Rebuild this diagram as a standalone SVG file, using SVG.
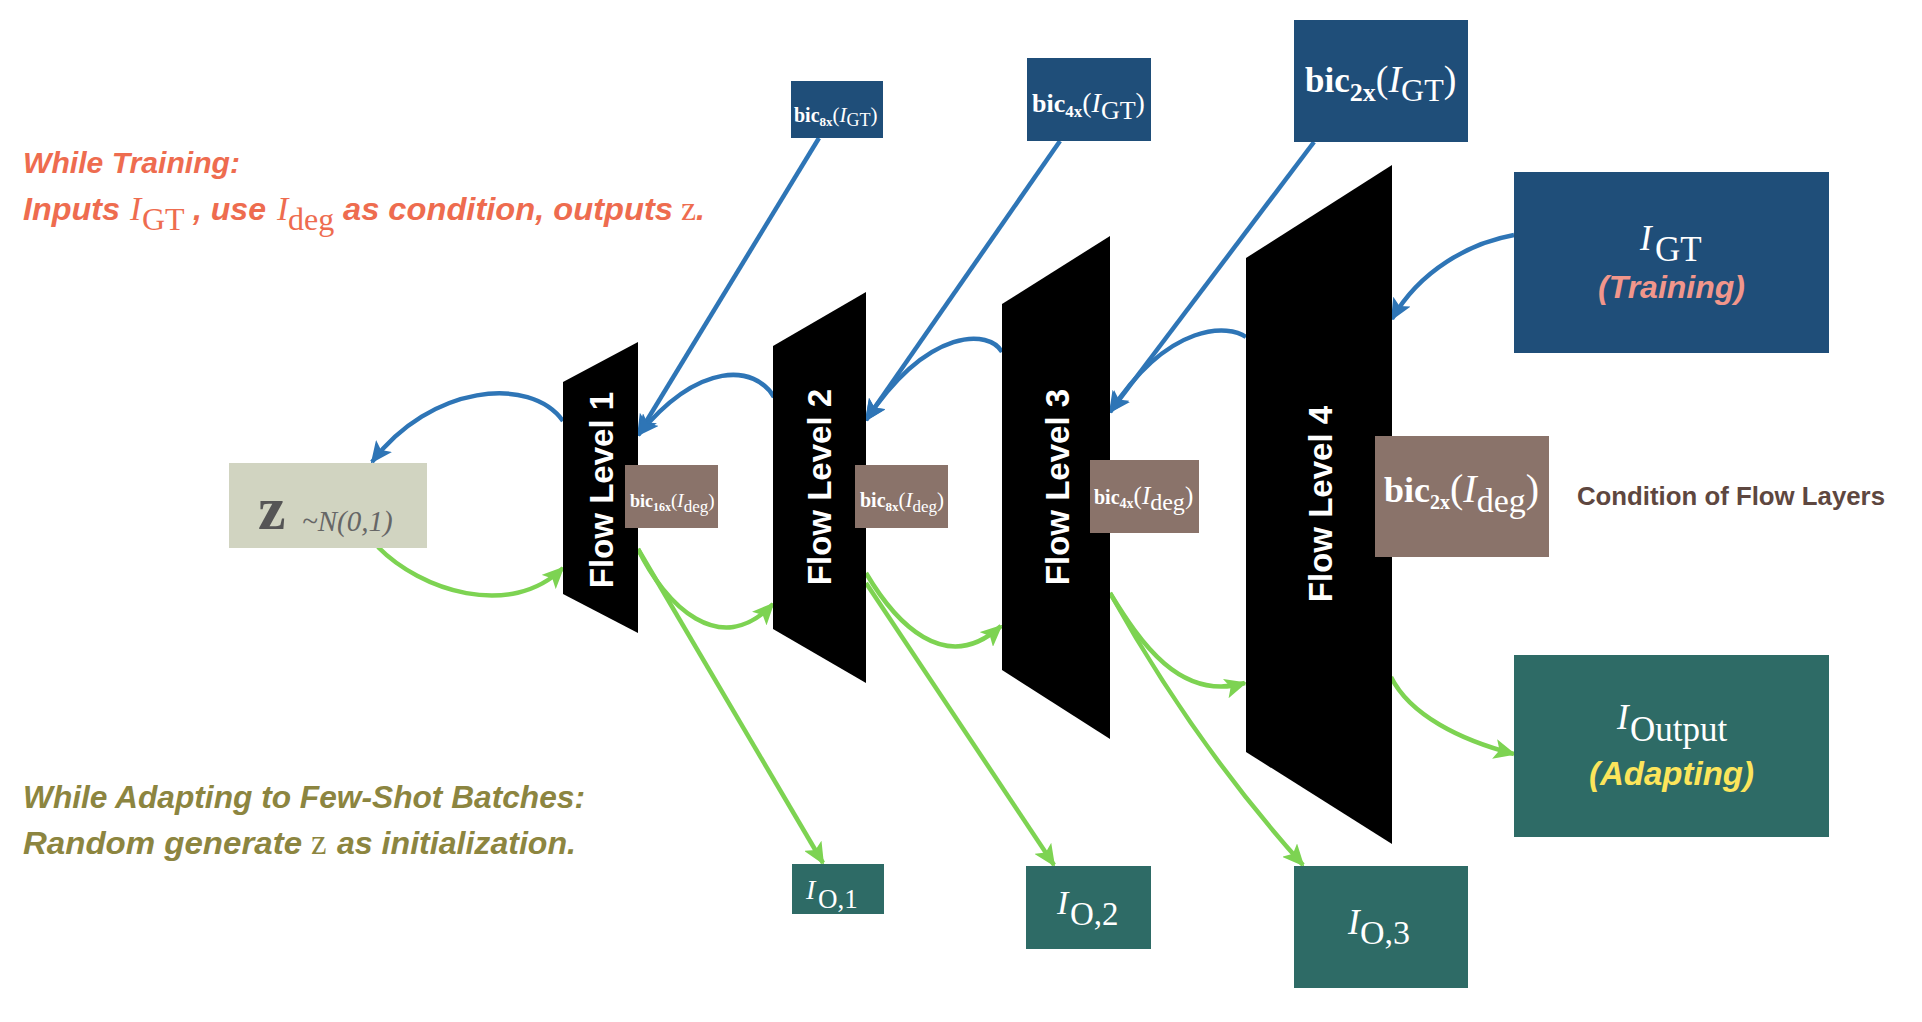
<svg xmlns="http://www.w3.org/2000/svg" width="1922" height="1022" viewBox="0 0 1922 1022">
<style>
.sans{font-family:"Liberation Sans",Arial,Helvetica,sans-serif}
.sr{font-family:"Liberation Serif","Times New Roman",serif}
.bi{font-weight:bold;font-style:italic}
.fl{font-family:"Liberation Sans",Arial,sans-serif;font-weight:bold;font-size:33px;fill:#ffffff;text-anchor:middle}
.wt{fill:#ffffff}
.blue{fill:#1F4E79}
.teal{fill:#2E6B66}
.brown{fill:#8A736A}
.cb{fill:none;stroke:#2E75B6;stroke-width:4.5;marker-end:url(#ab)}
.cg{fill:none;stroke:#7DD352;stroke-width:4.5;marker-end:url(#ag)}
</style>
<defs>
<marker id="ab" viewBox="0 0 22 20" refX="20" refY="10" markerWidth="22" markerHeight="20" markerUnits="userSpaceOnUse" orient="auto"><path d="M0,0 L22,10 L0,20 L5,10 z" fill="#2E75B6"/></marker>
<marker id="ag" viewBox="0 0 22 20" refX="20" refY="10" markerWidth="22" markerHeight="20" markerUnits="userSpaceOnUse" orient="auto"><path d="M0,0 L22,10 L0,20 L5,10 z" fill="#7DD352"/></marker>
</defs>
<rect width="1922" height="1022" fill="#ffffff"/>

<g id="notes">
<text class="sans bi" x="23" y="173" font-size="30" fill="#EE6C4F" textLength="217" lengthAdjust="spacingAndGlyphs">While Training:</text>
<text font-size="32" fill="#EE6C4F"><tspan class="sans bi" x="23" y="220" textLength="97" lengthAdjust="spacingAndGlyphs">Inputs</tspan><tspan class="sr" font-style="italic" font-size="34" x="130" y="220">I</tspan><tspan class="sr" x="142" y="230">GT</tspan><tspan class="sans bi" x="193" y="220">, use</tspan><tspan class="sr" font-style="italic" font-size="34" x="277" y="220">I</tspan><tspan class="sr" x="288" y="230">deg</tspan><tspan class="sans bi" x="343" y="220" textLength="330" lengthAdjust="spacingAndGlyphs">as condition, outputs</tspan><tspan class="sr" font-size="34" x="681" y="220">z</tspan><tspan class="sans bi" x="696" y="220">.</tspan></text>
<text class="sans bi" x="23" y="808" font-size="32" fill="#8C8540" textLength="562" lengthAdjust="spacingAndGlyphs">While Adapting to Few-Shot Batches:</text>
<text font-size="32" fill="#8C8540"><tspan class="sans bi" x="23" y="854" textLength="279" lengthAdjust="spacingAndGlyphs">Random generate</tspan><tspan class="sr" font-size="35" x="311" y="854">z</tspan><tspan class="sans bi" x="337" y="854" textLength="239" lengthAdjust="spacingAndGlyphs">as initialization.</tspan></text>
<text class="sans" x="1577" y="505" font-size="26" font-weight="bold" fill="#5E4740" textLength="308" lengthAdjust="spacingAndGlyphs">Condition of Flow Layers</text>
</g>

<g id="connectors">
<path class="cb" d="M563,421 C530,375 430,385 372,462"/>
<path class="cb" d="M819,138 L638,435"/>
<path class="cb" d="M774,397 C755,365 700,360 638,435"/>
<path class="cb" d="M1060,141 L866,420"/>
<path class="cb" d="M1002,352 C990,330 930,325 866,420"/>
<path class="cb" d="M1314,142 L1110,412"/>
<path class="cb" d="M1246,337 C1230,325 1170,320 1110,412"/>
<path class="cb" d="M1514,235 C1470,243 1420,270 1392,319"/>
<path class="cg" d="M378,547 C420,590 510,620 563,568"/>
<path class="cg" d="M638,549 C665,605 720,660 773,604"/>
<path class="cg" d="M638,549 L823,863"/>
<path class="cg" d="M866,573 C895,622 945,677 1001,626"/>
<path class="cg" d="M866,583 L1054,865"/>
<path class="cg" d="M1110,593 C1140,642 1180,702 1245,683"/>
<path class="cg" d="M1110,593 Q1195,745 1303,865"/>
<path class="cg" d="M1391,677 C1410,715 1460,740 1514,754"/>
</g>

<g id="z">
<rect x="229" y="463" width="198" height="85" fill="#D1D4C1"/>
<text class="sr" x="258" y="529" font-size="62" font-weight="bold" fill="#555555">z</text>
<text class="sr" x="302" y="531" font-size="29" font-style="italic" fill="#666666">~N(0,1)</text>
</g>

<g id="flow1">
<polygon points="563,382 638,342 638,633 563,594" fill="#000000"/>
<text class="fl" x="601" y="502" transform="rotate(-90 601 490)">Flow Level 1</text>
</g>
<g id="flow2">
<polygon points="773,346 866,292 866,683 773,629" fill="#000000"/>
<text class="fl" x="819" y="499" transform="rotate(-90 819 487)">Flow Level 2</text>
</g>
<g id="flow3">
<polygon points="1002,304 1110,236 1110,739 1002,670" fill="#000000"/>
<text class="fl" x="1057" y="499" transform="rotate(-90 1057 487)">Flow Level 3</text>
</g>
<g id="flow4">
<polygon points="1246,258 1392,165 1392,844 1246,752" fill="#000000"/>
<text class="fl" x="1320" y="516" transform="rotate(-90 1320 504)">Flow Level 4</text>
</g>

<g id="bic8x-gt">
<rect class="blue" x="791" y="81" width="92" height="57"/>
<text class="sr wt" x="794" y="122" font-size="21"><tspan font-weight="bold" font-size="20">bic</tspan><tspan font-weight="bold" font-size="13" dy="4">8x</tspan><tspan dy="-4">(</tspan><tspan font-style="italic">I</tspan><tspan font-size="18" dy="4">GT</tspan><tspan dy="-4">)</tspan></text>
</g>
<g id="bic4x-gt">
<rect class="blue" x="1027" y="58" width="124" height="83"/>
<text class="sr wt" x="1032" y="112" font-size="28"><tspan font-weight="bold" font-size="26">bic</tspan><tspan font-weight="bold" font-size="17" dy="5">4x</tspan><tspan dy="-5">(</tspan><tspan font-style="italic">I</tspan><tspan font-size="26" dy="7">GT</tspan><tspan dy="-7">)</tspan></text>
</g>
<g id="bic2x-gt">
<rect class="blue" x="1294" y="20" width="174" height="122"/>
<text class="sr wt" x="1305" y="92" font-size="38"><tspan font-weight="bold" font-size="35">bic</tspan><tspan font-weight="bold" font-size="26" dy="9">2x</tspan><tspan dy="-9">(</tspan><tspan font-style="italic">I</tspan><tspan font-size="32" dy="9">GT</tspan><tspan dy="-9">)</tspan></text>
</g>

<g id="bic16x-deg">
<rect class="brown" x="625" y="465" width="93" height="63"/>
<text class="sr wt" x="630" y="507" font-size="19"><tspan font-weight="bold" font-size="18">bic</tspan><tspan font-weight="bold" font-size="12" dy="4">16x</tspan><tspan dy="-4">(</tspan><tspan font-style="italic">I</tspan><tspan font-size="17" dy="5">deg</tspan><tspan dy="-5">)</tspan></text>
</g>
<g id="bic8x-deg">
<rect class="brown" x="855" y="465" width="93" height="63"/>
<text class="sr wt" x="860" y="507" font-size="21"><tspan font-weight="bold" font-size="20">bic</tspan><tspan font-weight="bold" font-size="13" dy="4">8x</tspan><tspan dy="-4">(</tspan><tspan font-style="italic">I</tspan><tspan font-size="17" dy="5">deg</tspan><tspan dy="-5">)</tspan></text>
</g>
<g id="bic4x-deg">
<rect class="brown" x="1090" y="460" width="109" height="73"/>
<text class="sr wt" x="1094" y="504" font-size="25"><tspan font-weight="bold" font-size="20">bic</tspan><tspan font-weight="bold" font-size="14" dy="4">4x</tspan><tspan dy="-4">(</tspan><tspan font-style="italic">I</tspan><tspan font-size="24" dy="6">deg</tspan><tspan dy="-6">)</tspan></text>
</g>
<g id="bic2x-deg">
<rect class="brown" x="1375" y="436" width="174" height="121"/>
<text class="sr wt" x="1384" y="502" font-size="40"><tspan font-weight="bold" font-size="36">bic</tspan><tspan font-weight="bold" font-size="20" dy="7">2x</tspan><tspan dy="-7">(</tspan><tspan font-style="italic">I</tspan><tspan font-size="34" dy="10">deg</tspan><tspan dy="-10">)</tspan></text>
</g>

<g id="igt">
<rect class="blue" x="1514" y="172" width="315" height="181"/>
<text class="sr wt" font-size="35"><tspan font-style="italic" x="1640" y="250">I</tspan><tspan x="1655" y="261">GT</tspan></text>
<text class="sans bi" x="1671.5" y="298" font-size="32" fill="#F1968B" text-anchor="middle">(Training)</text>
</g>
<g id="ioutput">
<rect class="teal" x="1514" y="655" width="315" height="182"/>
<text class="sr wt" font-size="35"><tspan font-style="italic" x="1617" y="729">I</tspan><tspan x="1630" y="741">Output</tspan></text>
<text class="sans bi" x="1671.5" y="785" font-size="33" fill="#FCE55B" text-anchor="middle">(Adapting)</text>
</g>

<g id="io1">
<rect class="teal" x="792" y="864" width="92" height="50"/>
<text class="sr wt"><tspan font-style="italic" font-size="28" x="806" y="899">I</tspan><tspan font-size="27" x="818" y="908">O,1</tspan></text>
</g>
<g id="io2">
<rect class="teal" x="1026" y="866" width="125" height="83"/>
<text class="sr wt"><tspan font-style="italic" font-size="34" x="1057" y="914">I</tspan><tspan font-size="33" x="1070" y="925">O,2</tspan></text>
</g>
<g id="io3">
<rect class="teal" x="1294" y="866" width="174" height="122"/>
<text class="sr wt"><tspan font-style="italic" font-size="35" x="1348" y="934">I</tspan><tspan font-size="34" x="1360" y="944">O,3</tspan></text>
</g>
</svg>
